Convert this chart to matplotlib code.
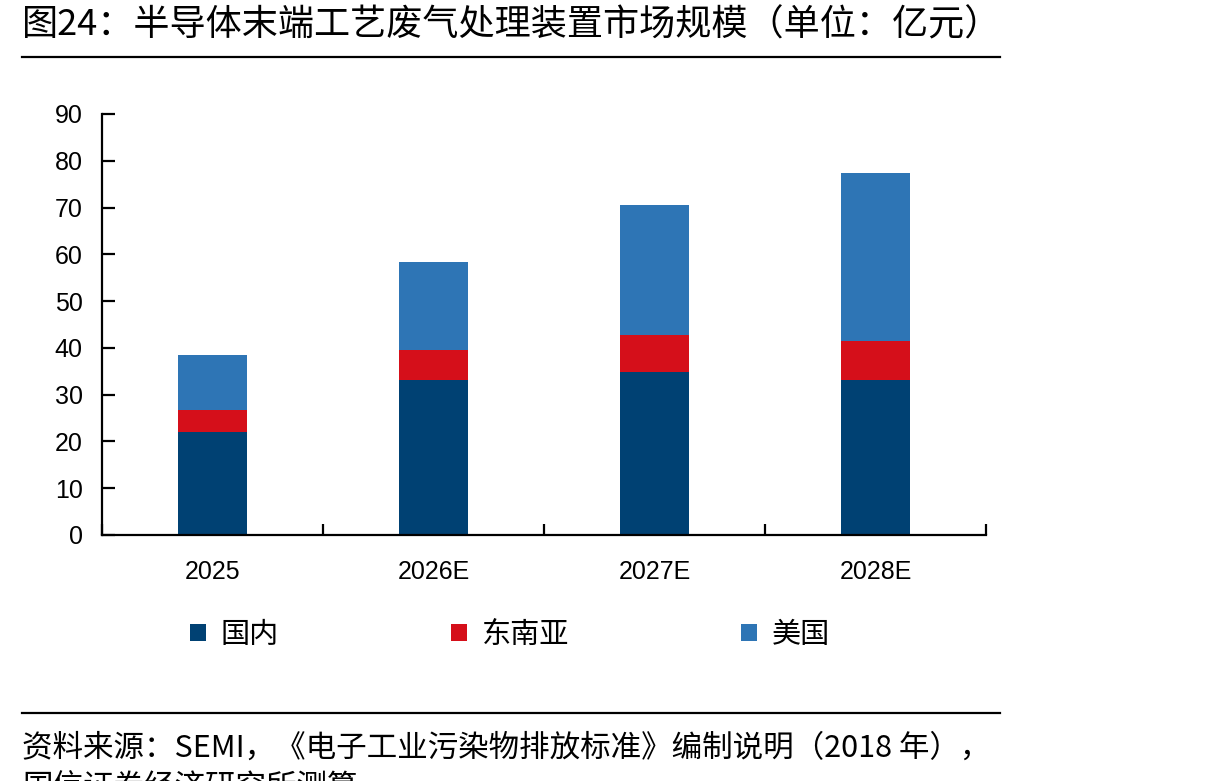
import matplotlib
matplotlib.use('Agg')
import matplotlib.pyplot as plt
from matplotlib.lines import Line2D
import numpy as np

plt.rcParams['font.family'] = ['Noto Sans CJK SC', 'DejaVu Sans']

years = ['2025', '2026E', '2027E', '2028E']
domestic = [22.0, 33.1, 34.8, 33.1]        # 国内
southeast_asia = [4.7, 6.4, 8.0, 8.4]      # 东南亚
usa = [11.8, 18.9, 27.7, 35.9]             # 美国
series_names = ['国内', '东南亚', '美国']
colors = ['#004173', '#D50F1A', '#2E75B5']

fig = plt.figure(figsize=(12.17, 7.81), dpi=100)
ax = fig.add_axes([102 / 1217, 1 - 535 / 781, 884 / 1217, (535 - 114) / 781])

x = np.arange(len(years))
w = 0.31
bottom = np.zeros(len(years))
for vals, name, c in zip([domestic, southeast_asia, usa], series_names, colors):
    ax.bar(x, vals, w, bottom=bottom, color=c, label=name, zorder=2)
    bottom += np.array(vals)

ax.set_xlim(-0.5, 3.5)
ax.set_ylim(0, 90)
ax.set_yticks(range(0, 91, 10))
ax.set_xticks(x)
ax.set_xticklabels(years)
ax.set_xticks(np.arange(-0.5, 4, 1), minor=True)

for s in ['top', 'right']:
    ax.spines[s].set_visible(False)
for s in ['left', 'bottom']:
    ax.spines[s].set_linewidth(1.6)
    ax.spines[s].set_color('black')

ax.tick_params(axis='y', direction='in', length=9, width=1.6, pad=14,
               labelsize=18, labelfontfamily='Liberation Sans')
ax.tick_params(axis='x', which='major', length=0, pad=18,
               labelsize=18, labelfontfamily='Liberation Sans')
ax.tick_params(axis='x', which='minor', direction='in', length=8, width=1.6)

fig.legend(loc='center left', bbox_to_anchor=(190 / 1217, 1 - 635 / 781),
           ncol=3, frameon=False, fontsize=21, handlelength=0.55,
           handleheight=0.55, handletextpad=0.5, columnspacing=5.9,
           borderpad=0, borderaxespad=0)

fig.text(22 / 1217, 1 - 25 / 781, '图24：半导体末端工艺废气处理装置市场规模（单位：亿元）',
         fontsize=26, va='center', ha='left')
fig.add_artist(Line2D([22 / 1217, 1000 / 1217], [1 - 57 / 781] * 2,
                      color='black', lw=1.6, transform=fig.transFigure))
fig.add_artist(Line2D([22 / 1217, 1000 / 1217], [1 - 713 / 781] * 2,
                      color='black', lw=1.6, transform=fig.transFigure))
fig.text(22 / 1217, 1 - 748 / 781, '资料来源：SEMI，《电子工业污染物排放标准》编制说明（2018 年），',
         fontsize=22, va='center', ha='left')
fig.text(22 / 1217, 1 - 772 / 781, '国信证券经济研究所测算',
         fontsize=22, va='top', ha='left')

fig.savefig('out.png', dpi=100)
